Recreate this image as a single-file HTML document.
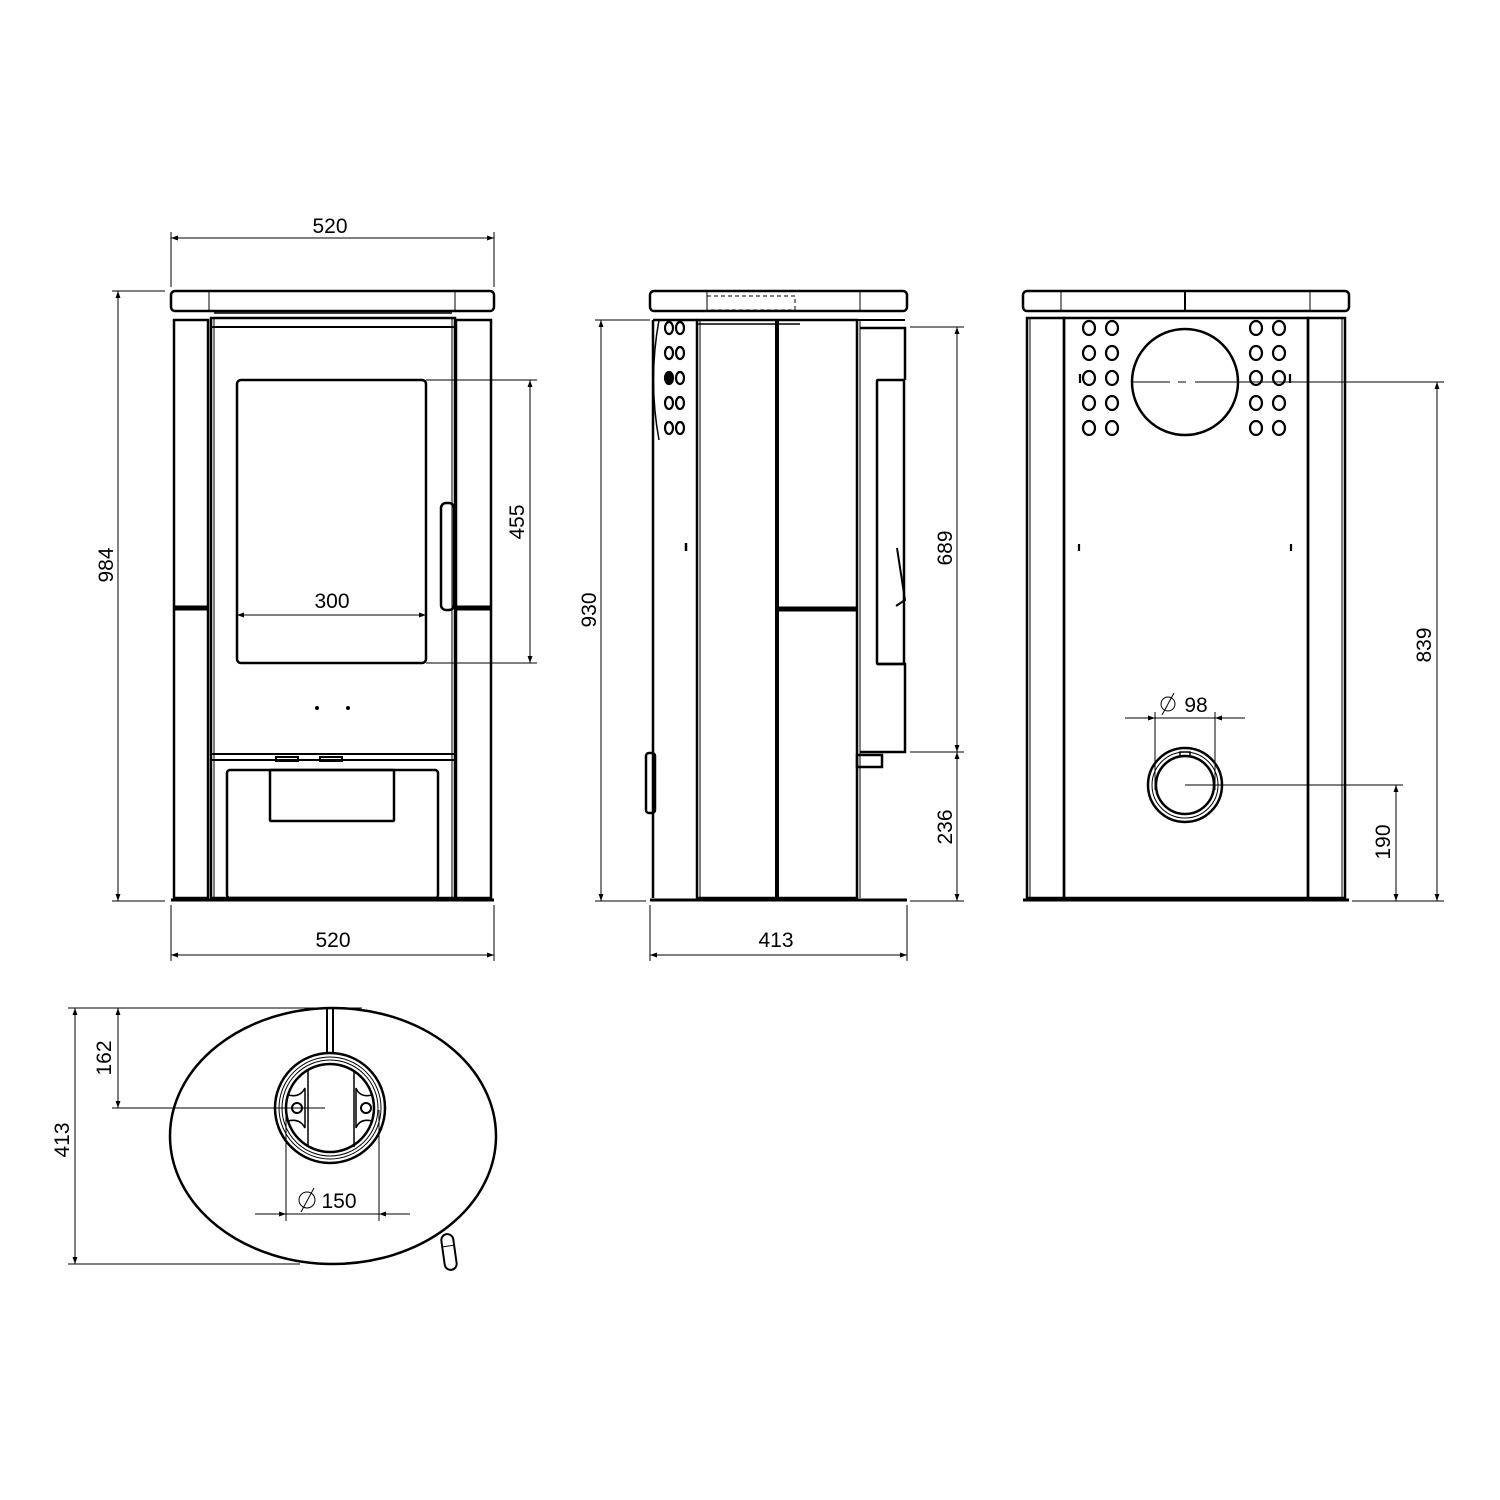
<!DOCTYPE html>
<html><head><style>html,body{margin:0;padding:0;background:#fff}svg{display:block}text{font-family:"Liberation Sans",sans-serif;font-size:21px;fill:#000;stroke:none}</style></head>
<body>
<svg width="1500" height="1500" viewBox="0 0 1500 1500" xmlns="http://www.w3.org/2000/svg">
<defs>
<marker id="a" viewBox="0 0 10 10" refX="10" refY="5" markerWidth="14" markerHeight="7" orient="auto-start-reverse" markerUnits="userSpaceOnUse"><path d="M0,1.5L10,5L0,8.5Z" fill="#000" stroke="none"/></marker>
</defs>
<g fill="none" stroke="#000" stroke-width="1">
<!-- ============ FRONT VIEW ============ -->
<g stroke-width="2.5">
<rect x="171" y="291" width="323" height="20" rx="4"/>
<rect x="174" y="320" width="34" height="578"/>
<rect x="456" y="320" width="35" height="578"/>
<rect x="211" y="318" width="244" height="580"/>
<rect x="237" y="380" width="189" height="283" rx="4"/>
<rect x="227" y="770" width="211" height="128" rx="3"/>
<rect x="270" y="770" width="124" height="51" rx="1"/>
<rect x="441" y="503" width="13" height="107" rx="5"/>
</g>
<line x1="209" y1="292" x2="209" y2="310"/><line x1="455" y1="292" x2="455" y2="310"/>
<line x1="214" y1="318" x2="214" y2="898"/>
<line x1="452" y1="318" x2="452" y2="898"/>
<line x1="211" y1="327" x2="455" y2="327" stroke-width="2"/>
<line x1="211" y1="754" x2="455" y2="754" stroke-width="2"/>
<line x1="211" y1="760" x2="455" y2="760" stroke-width="2"/>
<rect x="276" y="757" width="22" height="4" stroke-width="2"/>
<rect x="320" y="757" width="22" height="4" stroke-width="2"/>
<rect x="174" y="606" width="34" height="4" fill="#000"/>
<rect x="456" y="606" width="35" height="4" fill="#000"/>
<circle cx="317" cy="708" r="1.5" fill="#000"/>
<circle cx="348" cy="708" r="1.5" fill="#000"/>
<line x1="214" y1="313" x2="452" y2="313" stroke-width="1.5"/>
<line x1="171" y1="900" x2="494" y2="900" stroke-width="3"/>
<!-- front dims -->
<line x1="171" y1="232" x2="171" y2="287"/><line x1="494" y1="232" x2="494" y2="287"/>
<line x1="171" y1="238" x2="494" y2="238" marker-start="url(#a)" marker-end="url(#a)"/>
<text x="330" y="233" text-anchor="middle">520</text>
<line x1="112" y1="291" x2="165" y2="291"/><line x1="112" y1="901" x2="165" y2="901"/>
<line x1="118" y1="291" x2="118" y2="901" marker-start="url(#a)" marker-end="url(#a)"/>
<text transform="translate(113,565) rotate(-90)" text-anchor="middle">984</text>
<line x1="171" y1="905" x2="171" y2="961"/><line x1="494" y1="905" x2="494" y2="961"/>
<line x1="171" y1="955" x2="494" y2="955" marker-start="url(#a)" marker-end="url(#a)"/>
<text x="333" y="947" text-anchor="middle">520</text>
<line x1="426" y1="380" x2="537" y2="380"/><line x1="426" y1="663" x2="537" y2="663"/>
<line x1="530" y1="380" x2="530" y2="663" marker-start="url(#a)" marker-end="url(#a)"/>
<text transform="translate(524,522) rotate(-90)" text-anchor="middle">455</text>
<line x1="237" y1="615" x2="426" y2="615" marker-start="url(#a)" marker-end="url(#a)"/>
<text x="332" y="608" text-anchor="middle">300</text>

<!-- ============ SIDE VIEW ============ -->
<g stroke-width="2.5">
<rect x="650" y="291" width="257" height="20" rx="4"/>
<rect x="697" y="320" width="160" height="578"/>
<path d="M653,320 L697,320 M653,898 L653,320"/>
<rect x="877" y="380" width="27" height="284" rx="1"/>
<path d="M860,328 L905,328 L905,380 M877,664 L905,664 L905,752 L860,752"/>
<rect x="857" y="755" width="25" height="12"/>
<rect x="646" y="753" width="9" height="60" rx="3"/>
</g>
<line x1="707" y1="292" x2="707" y2="310"/><line x1="860" y1="292" x2="860" y2="310"/>
<path d="M659,320 Q648,380 659,440" stroke-width="1.5"/>
<line x1="777" y1="320" x2="777" y2="898" stroke-width="4"/>
<line x1="700" y1="320" x2="700" y2="898"/>
<line x1="860" y1="320" x2="860" y2="898"/>
<rect x="777" y="607" width="80" height="4" fill="#000"/>
<rect x="707" y="296" width="88" height="14" stroke-dasharray="4,3"/>
<line x1="697" y1="324" x2="800" y2="324" stroke-width="1.5"/>
<line x1="857" y1="320" x2="905" y2="320" stroke-width="2"/>
<path d="M897,548 L905,600 L896,606" stroke-width="2"/>
<line x1="686" y1="543" x2="686" y2="551" stroke-width="2.5"/>
<g stroke-width="2.2">
<ellipse cx="669" cy="328" rx="4" ry="6"/><ellipse cx="680" cy="328" rx="4" ry="6"/>
<ellipse cx="669" cy="353" rx="4" ry="6"/><ellipse cx="680" cy="353" rx="4" ry="6"/>
<ellipse cx="669" cy="378" rx="4" ry="6" fill="#000"/><ellipse cx="680" cy="378" rx="4" ry="6"/>
<ellipse cx="669" cy="403" rx="4" ry="6"/><ellipse cx="680" cy="403" rx="4" ry="6"/>
<ellipse cx="669" cy="428" rx="4" ry="6"/><ellipse cx="680" cy="428" rx="4" ry="6"/>
</g>
<line x1="650" y1="900" x2="907" y2="900" stroke-width="3"/>
<!-- side dims -->
<line x1="595" y1="320" x2="650" y2="320"/><line x1="595" y1="901" x2="646" y2="901"/>
<line x1="601" y1="320" x2="601" y2="901" marker-start="url(#a)" marker-end="url(#a)"/>
<text transform="translate(596,610) rotate(-90)" text-anchor="middle">930</text>
<line x1="910" y1="327" x2="964" y2="327"/><line x1="910" y1="752" x2="964" y2="752"/><line x1="910" y1="901" x2="964" y2="901"/>
<line x1="957" y1="327" x2="957" y2="752" marker-start="url(#a)" marker-end="url(#a)"/>
<line x1="957" y1="752" x2="957" y2="901" marker-start="url(#a)" marker-end="url(#a)"/>
<text transform="translate(952,548) rotate(-90)" text-anchor="middle">689</text>
<text transform="translate(952,827) rotate(-90)" text-anchor="middle">236</text>
<line x1="650" y1="905" x2="650" y2="961"/><line x1="907" y1="905" x2="907" y2="961"/>
<line x1="650" y1="955" x2="907" y2="955" marker-start="url(#a)" marker-end="url(#a)"/>
<text x="776" y="947" text-anchor="middle">413</text>

<!-- ============ REAR VIEW ============ -->
<g stroke-width="2.5">
<rect x="1023" y="291" width="326" height="20" rx="4"/>
<rect x="1027" y="318" width="37" height="580"/>
<rect x="1308" y="318" width="37" height="580"/>
<rect x="1064" y="318" width="244" height="580"/>
<circle cx="1185" cy="382" r="53"/>
<circle cx="1185" cy="785" r="37"/>
<circle cx="1185" cy="785" r="29"/>
</g>
<line x1="1061" y1="292" x2="1061" y2="310"/><line x1="1310" y1="292" x2="1310" y2="310"/>
<line x1="1185" y1="291" x2="1185" y2="311" stroke-width="2"/>
<line x1="1030" y1="318" x2="1030" y2="898"/><line x1="1342" y1="318" x2="1342" y2="898"/>
<circle cx="1185" cy="785" r="33"/>
<rect x="1180" y="752" width="10" height="4" stroke-width="1.5"/>
<g stroke-width="2.2">
<ellipse cx="1089" cy="328" rx="6" ry="7"/><ellipse cx="1112" cy="328" rx="6" ry="7"/><ellipse cx="1256" cy="328" rx="6" ry="7"/><ellipse cx="1279" cy="328" rx="6" ry="7"/>
<ellipse cx="1089" cy="353" rx="6" ry="7"/><ellipse cx="1112" cy="353" rx="6" ry="7"/><ellipse cx="1256" cy="353" rx="6" ry="7"/><ellipse cx="1279" cy="353" rx="6" ry="7"/>
<ellipse cx="1089" cy="378" rx="6" ry="7"/><ellipse cx="1112" cy="378" rx="6" ry="7"/><ellipse cx="1256" cy="378" rx="6" ry="7"/><ellipse cx="1279" cy="378" rx="6" ry="7"/>
<ellipse cx="1089" cy="403" rx="6" ry="7"/><ellipse cx="1112" cy="403" rx="6" ry="7"/><ellipse cx="1256" cy="403" rx="6" ry="7"/><ellipse cx="1279" cy="403" rx="6" ry="7"/>
<ellipse cx="1089" cy="428" rx="6" ry="7"/><ellipse cx="1112" cy="428" rx="6" ry="7"/><ellipse cx="1256" cy="428" rx="6" ry="7"/><ellipse cx="1279" cy="428" rx="6" ry="7"/>
<line x1="1080" y1="374" x2="1080" y2="383"/><line x1="1290" y1="374" x2="1290" y2="383"/>
<line x1="1079" y1="544" x2="1079" y2="551"/><line x1="1291" y1="544" x2="1291" y2="551"/>
</g>
<line x1="1023" y1="900" x2="1349" y2="900" stroke-width="3"/>
<!-- rear dims -->
<line x1="1132" y1="382" x2="1170" y2="382"/><line x1="1178" y1="382" x2="1186" y2="382"/><line x1="1195" y1="382" x2="1444" y2="382"/>
<line x1="1185" y1="785" x2="1403" y2="785"/>
<line x1="1352" y1="901" x2="1444" y2="901"/>
<line x1="1437" y1="382" x2="1437" y2="901" marker-start="url(#a)" marker-end="url(#a)"/>
<text transform="translate(1431,645) rotate(-90)" text-anchor="middle">839</text>
<line x1="1396" y1="785" x2="1396" y2="901" marker-start="url(#a)" marker-end="url(#a)"/>
<text transform="translate(1390,842) rotate(-90)" text-anchor="middle">190</text>
<line x1="1155" y1="712" x2="1155" y2="790"/><line x1="1215" y1="712" x2="1215" y2="790"/>
<line x1="1125" y1="718" x2="1155" y2="718" marker-end="url(#a)"/>
<line x1="1245" y1="718" x2="1215" y2="718" marker-end="url(#a)"/>
<line x1="1155" y1="718" x2="1215" y2="718"/>
<text x="1196" y="712" text-anchor="middle">98</text>
<circle cx="1168" cy="704" r="7"/><line x1="1162" y1="715" x2="1174" y2="693"/>

<!-- ============ TOP VIEW ============ -->
<ellipse cx="333" cy="1136" rx="163" ry="128" stroke-width="2.5"/>
<g stroke-width="2.5">
<circle cx="330" cy="1108" r="55"/>
<circle cx="330" cy="1108" r="44"/>
</g>
<circle cx="330" cy="1108" r="51"/><circle cx="330" cy="1108" r="48"/>
<line x1="327" y1="1008" x2="327" y2="1054" stroke-width="2"/><line x1="333" y1="1008" x2="333" y2="1054" stroke-width="2"/>
<line x1="308" y1="1070" x2="308" y2="1147" stroke-width="1.5"/><line x1="354" y1="1070" x2="354" y2="1147" stroke-width="1.5"/>
<path d="M288,1095 Q300,1098 305,1088 L305,1128 Q300,1118 288,1121" stroke-width="1.5"/>
<path d="M372,1095 Q360,1098 356,1088 L356,1128 Q360,1118 372,1121" stroke-width="1.5"/>
<circle cx="297" cy="1108" r="5" stroke-width="2"/><circle cx="366" cy="1108" r="5" stroke-width="2"/>
<g transform="translate(449,1252) rotate(-8)"><rect x="-6" y="-18" width="12" height="36" rx="6" stroke-width="2"/><line x1="-6" y1="-6" x2="6" y2="-6"/></g>
<!-- top dims -->
<line x1="68" y1="1008" x2="362" y2="1008"/>
<line x1="68" y1="1264" x2="300" y2="1264"/>
<line x1="112" y1="1108" x2="325" y2="1108"/>
<line x1="118" y1="1008" x2="118" y2="1108" marker-start="url(#a)" marker-end="url(#a)"/>
<text transform="translate(111,1058) rotate(-90)" text-anchor="middle">162</text>
<line x1="75" y1="1008" x2="75" y2="1264" marker-start="url(#a)" marker-end="url(#a)"/>
<text transform="translate(69,1140) rotate(-90)" text-anchor="middle">413</text>
<line x1="286" y1="1110" x2="286" y2="1221"/><line x1="379" y1="1110" x2="379" y2="1221"/>
<line x1="255" y1="1214" x2="286" y2="1214" marker-end="url(#a)"/>
<line x1="410" y1="1214" x2="379" y2="1214" marker-end="url(#a)"/>
<line x1="286" y1="1214" x2="379" y2="1214"/>
<text x="339" y="1208" text-anchor="middle">150</text>
<circle cx="307" cy="1200" r="8"/><line x1="301" y1="1212" x2="314" y2="1188"/>
</g>
</svg>
</body></html>
